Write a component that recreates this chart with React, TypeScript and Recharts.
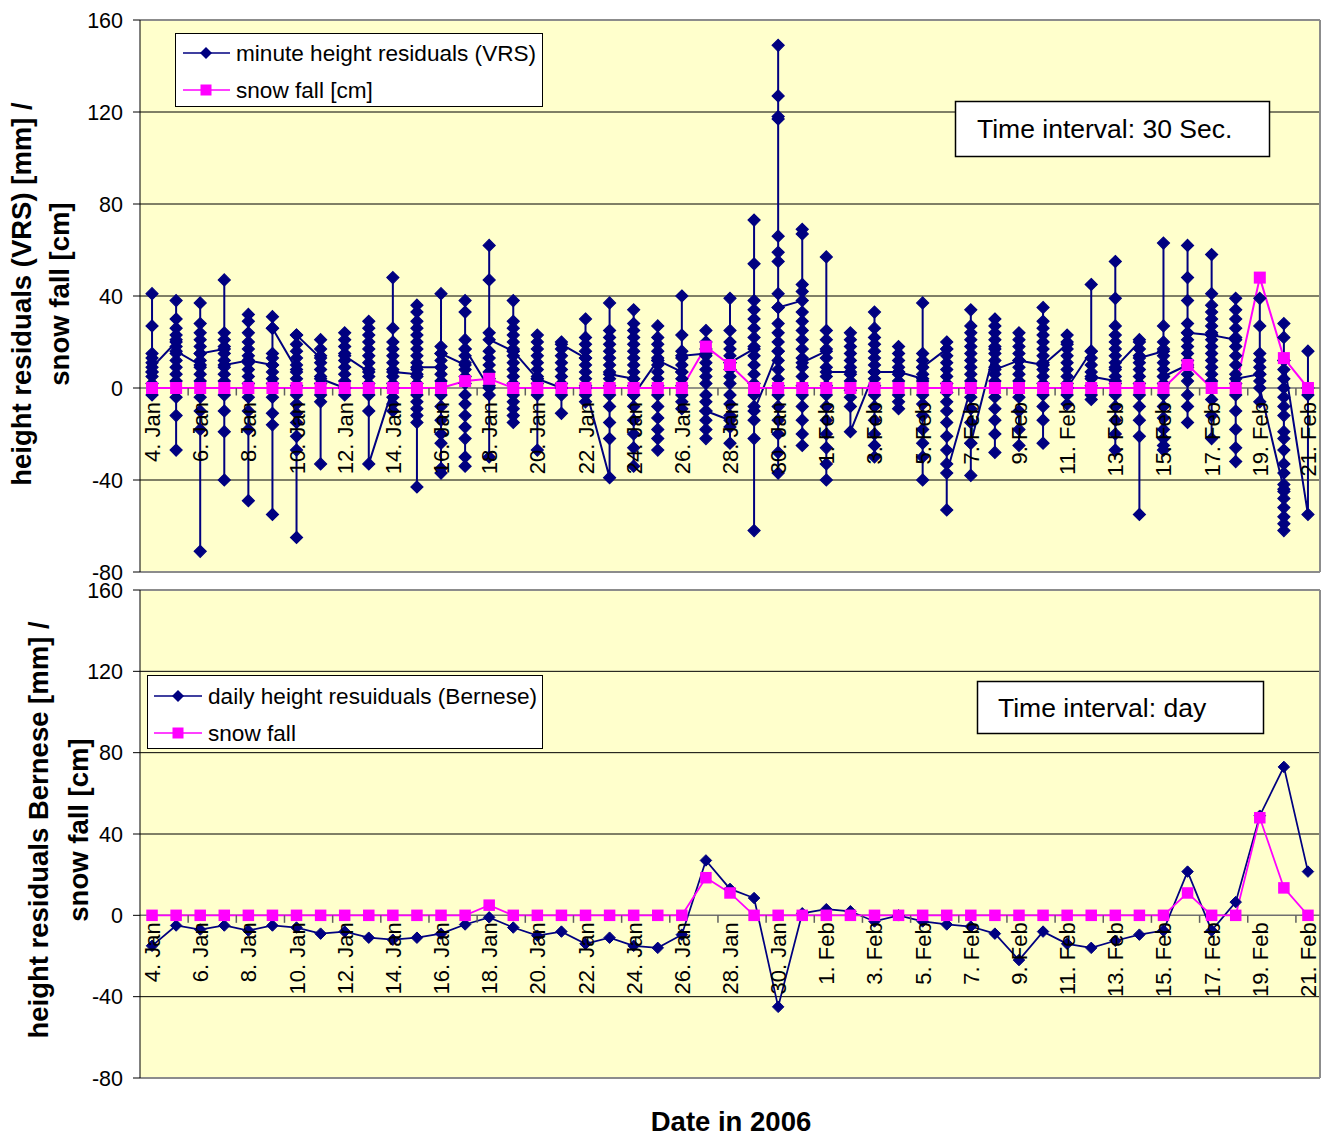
import React from 'react';
import { ComposedChart, Line, XAxis, YAxis, CartesianGrid, ReferenceLine } from 'recharts';

const FONT = '"Liberation Sans", Arial, Helvetica, sans-serif';
const NAVY = '#000080';
const MAGENTA = '#FF00FF';
const PLOT_BG = '#FFFFCC';

// 49 days: 4. Jan .. 21. Feb 2006
const dayLabels = [
  '4. Jan', '5. Jan', '6. Jan', '7. Jan', '8. Jan', '9. Jan', '10. Jan',
  '11. Jan', '12. Jan', '13. Jan', '14. Jan', '15. Jan', '16. Jan', '17. Jan',
  '18. Jan', '19. Jan', '20. Jan', '21. Jan', '22. Jan', '23. Jan', '24. Jan',
  '25. Jan', '26. Jan', '27. Jan', '28. Jan', '29. Jan', '30. Jan', '31. Jan',
  '1. Feb', '2. Feb', '3. Feb', '4. Feb', '5. Feb', '6. Feb', '7. Feb',
  '8. Feb', '9. Feb', '10. Feb', '11. Feb', '12. Feb', '13. Feb', '14. Feb',
  '15. Feb', '16. Feb', '17. Feb', '18. Feb', '19. Feb', '20. Feb', '21. Feb',
];

// days whose label is printed (every second day)
const labelledDays = [0, 2, 4, 6, 8, 10, 12, 14, 16, 18, 20, 22, 24, 26, 28, 30, 32, 34, 36, 38, 40, 42, 44, 46, 48];
// category-axis tick marks (between categories)
const axisTickMarks = [1.5, 3.5, 5.5, 7.5, 9.5, 11.5, 13.5, 15.5, 17.5, 19.5, 21.5, 23.5, 25.5, 27.5, 29.5, 31.5, 33.5, 35.5, 37.5, 39.5, 41.5, 43.5, 45.5, 47.5];

const yTicks = [-80, -40, 0, 40, 80, 120, 160];

// minute height residuals (VRS) [mm], values read per day (first..last in drawing order)
const vrsMinuteResiduals: number[][] = [
  [7, 41, 27, 15, 13, 11, 7, 5, 2, -3, 9],
  [20, 38, 30, 26, 23, 21, 18, 15, 12, 9, 6, 3, -4, -12, -27, 16],
  [10, 37, 28, 24, 21, 18, 15, 12, 9, 6, 3, -4, -10, -18, -71, 15],
  [17, 47, 24, 21, 18, 15, 12, 9, 6, 3, -3, -10, -19, -40, 10],
  [12, 32, 29, 24, 20, 17, 14, 11, 8, 5, 2, -4, -10, -18, -49, 12],
  [10, 31, 26, 15, 13, 10, 7, 4, 2, -4, -11, -16, -55, 26],
  [8, 23, 19, 16, 13, 10, 7, 4, 1, -3, -7, -11, -15, -21, -27, -65, 23],
  [13, 21, 17, 14, 11, 8, 5, 2, -3, -6, -33, 4],
  [0, 24, 21, 18, 15, 12, 9, 6, 3, -3, 14],
  [7, 29, 26, 23, 20, 17, 14, 11, 8, 5, 2, -3, -10, -33],
  [0, 48, 26, 20, 17, 14, 11, 8, 5, 2, -4, -7, -10, 7],
  [6, 36, 33, 29, 26, 23, 20, 17, 14, 11, 8, 5, 2, -3, -6, -9, -12, -15, -43, 9],
  [9, 41, 18, 15, 12, 9, 6, 3, -3, -8, -14, -20, -24, -35, -37, 15],
  [10, 38, 33, 21, 17, 14, 11, 8, 5, 2, -3, -7, -12, -17, -22, -30, -34, 17],
  [0, 62, 47, 24, 16, 13, 10, 7, 4, 1, -3, -30, 21],
  [16, 38, 29, 26, 23, 20, 17, 14, 11, 8, 5, 2, -3, -6, -9, -12, -15, 16],
  [4, 23, 20, 17, 14, 11, 8, 5, 2, -3, -27, 4],
  [0, 20, 17, 14, 11, 8, 5, 2, -3, -11, 19],
  [13, 30, 22, 19, 16, 13, 10, 7, 4, 1, -3, -6, 0],
  [-39, 37, 25, 22, 19, 16, 13, 10, 7, 4, 1, -3, -8, -15, -22, 6],
  [4, 34, 28, 25, 22, 19, 16, 13, 10, 7, 4, 1, -3, -8, -14, -20, -26, -34, -3],
  [12, 27, 22, 19, 16, 13, 10, 7, 4, 1, -3, -8, -13, -18, -22, -27, 12],
  [7, 40, 23, 16, 13, 10, 7, 4, 1, -3, -6, -9, 14],
  [15, 25, 20, 17, 14, 11, 8, 5, 2, -3, -6, -10, -14, -18, -22, -10],
  [-14, 39, 25, 20, 17, 14, 11, 8, 5, 2, -3, -7, -12, -17, -24, 11],
  [17, 73, 54, 38, 34, 30, 26, 22, 18, 14, 10, 6, 2, -3, -8, -14, -22, -62, -10],
  [16, 149, 127, 118, 117, 66, 59, 55, 41, 35, 28, 24, 20, 16, 12, 8, 4, 1, -3, -8, -14, -20, -28, -37, 35],
  [38, 69, 67, 45, 42, 33, 29, 25, 21, 17, 13, 9, 5, 1, -3, -8, -14, -20, -25, 11],
  [16, 57, 25, 21, 17, 13, 9, 5, 1, -3, -8, -14, -20, -26, -33, -40, 7],
  [7, 24, 21, 18, 15, 12, 9, 6, 3, -1, -4, -8, -19],
  [7, 33, 26, 22, 19, 16, 13, 10, 7, 4, 1, -3, -8, -14, -20, -25, -30, 7],
  [7, 18, 15, 12, 9, 6, 3, -3, -6, -9, 7],
  [4, 37, 15, 12, 9, 6, 3, -3, -7, -12, -18, -24, -30, -40, 9],
  [17, 20, 17, 14, 11, 8, 5, 2, -2, -6, -10, -15, -21, -27, -33, -53, -37],
  [0, 34, 27, 24, 21, 18, 15, 12, 9, 6, 3, -4, -9, -15, -24, -38, -24],
  [17, 30, 27, 24, 21, 18, 15, 12, 9, 6, 3, -4, -9, -14, -20, -28, 8],
  [12, 24, 21, 18, 15, 12, 9, 6, 3, -4, -10, -18, -25, 12],
  [10, 35, 29, 26, 23, 20, 17, 14, 11, 8, 5, 2, -3, -8, -14, -24, 10],
  [19, 23, 20, 17, 14, 11, 8, 5, 2, -3, -7, 0],
  [16, 45, 16, 13, 10, 7, 4, 1, -3, -5, 5],
  [3, 55, 39, 27, 23, 20, 17, 14, 11, 8, 5, 2, -3, -8, -14, -20, -27, 9],
  [20, 21, 17, 14, 11, 8, 5, 2, -3, -8, -14, -21, -55, 13],
  [16, 63, 27, 20, 17, 14, 11, 8, 5, 2, -3, -8, -13, -18, -22, -25, -27, 5],
  [10, 62, 48, 38, 28, 24, 21, 18, 15, 12, 9, 6, 3, -3, -8, -15, 24],
  [23, 58, 41, 36, 33, 30, 27, 24, 21, 18, 15, 12, 9, 6, 3, -5, -12, -22, 23],
  [21, 39, 34, 30, 26, 22, 18, 14, 10, 6, 2, -3, -10, -18, -26, -32, 4],
  [6, 39, 27, 15, 12, 9, 6, 3, -6, 0],
  [-44, 28, 22, 12, 8, 4, 0, -4, -8, -12, -19, -22, -27, -33, -37, -42, -45, -48, -52, -56, -59, -62, 12],
  [-55, 16, 0, -3],
];

// snow fall [cm], top panel
const snowTop = [
  0, 0, 0, 0, 0, 0, 0,
  0, 0, 0, 0, 0, 0, 3,
  4, 0, 0, 0, 0, 0, 0,
  0, 0, 18, 10, 0, 0, 0,
  0, 0, 0, 0, 0, 0, 0,
  0, 0, 0, 0, 0, 0, 0,
  0, 10, 0, 0, 48, 13, 0,
];

// daily height residuals (Bernese) [mm]
const berneseDaily = [
  -15, -5, -7, -5, -7.5, -5, -6,
  -9, -8, -11, -12, -11, -9, -4.5,
  -1, -6, -10, -8, -14, -11, -15,
  -16, -9.5, 27, 13, 8.5, -45, 1,
  3, 2, -3, 0, -3, -4.5, -5.5,
  -9, -22, -8, -14, -16, -12.5, -9.5,
  -7.5, 21.5, -7.5, 6.5, 49, 73, 21.5,
];

// snow fall [cm], bottom panel
const snowBottom = [
  0, 0, 0, 0, 0, 0, 0,
  0, 0, 0, 0, 0, 0, 0,
  5, 0, 0, 0, 0, 0, 0,
  0, 0, 18.5, 11, 0, 0, 0,
  0, 0, 0, 0, 0, 0, 0,
  0, 0, 0, 0, 0, 0, 0,
  0, 11, 0, 0, 48, 13.5, 0,
];

// ---- tables built from the arrays ----
const vrsPoints = vrsMinuteResiduals.flatMap((vals, day) => vals.map((v) => ({ x: day, v })));
const snowTopPoints = snowTop.map((s, day) => ({ x: day, s }));
const bernesePoints = berneseDaily.map((b, day) => ({ x: day, b }));
const snowBottomPoints = snowBottom.map((s, day) => ({ x: day, s }));
const labelPoints = labelledDays.map((d) => ({ x: d, y: 0, label: dayLabels[d] }));
const tickPoints = axisTickMarks.map((x) => ({ x, y: 0 }));

// ---- marker renderers ----
const makeDiamond = (r: number, sw: number) => (p: any) => {
  const { cx, cy, index } = p;
  if (cx == null || cy == null || isNaN(cx) || isNaN(cy)) return <g key={`d-${index}`} />;
  return (
    <path
      key={`d-${index}`}
      d={`M${cx},${cy - r}L${cx + r},${cy}L${cx},${cy + r}L${cx - r},${cy}Z`}
      fill={NAVY}
      stroke={NAVY}
      strokeWidth={sw}
      strokeLinejoin="miter"
    />
  );
};

const makeSquare = (h: number) => (p: any) => {
  const { cx, cy, index } = p;
  if (cx == null || cy == null || isNaN(cx) || isNaN(cy)) return <g key={`s-${index}`} />;
  return <rect key={`s-${index}`} x={cx - h} y={cy - h} width={2 * h} height={2 * h} fill={MAGENTA} />;
};

const renderTickMark = (p: any) => {
  const { cx, cy, index } = p;
  if (cx == null || cy == null) return <g key={`t-${index}`} />;
  return <line key={`t-${index}`} x1={cx} x2={cx} y1={cy} y2={cy + 7.5} stroke="#606060" strokeWidth={1.5} />;
};

const makeAxisLabel = (gap: number) => (p: any) => {
  const { cx, cy, index, payload } = p;
  if (cx == null || cy == null) return <g key={`l-${index}`} />;
  return (
    <text
      key={`l-${index}`}
      transform={`translate(${cx + 8},${cy + gap}) rotate(-90)`}
      textAnchor="end"
      fontSize={22}
      fontFamily={FONT}
      fill="#000"
    >
      {payload && payload.label}
    </text>
  );
};

function renderCommon() {
  return [
    <CartesianGrid
      key="grid"
      vertical={false}
      horizontalValues={[-40, 40, 80, 120]}
      stroke="#000"
      strokeWidth={1}
      fill={PLOT_BG}
      fillOpacity={1}
    />,
    <XAxis key="x" type="number" dataKey="x" domain={[-0.5, 48.5]} hide allowDataOverflow />,
    <YAxis
      key="y"
      type="number"
      domain={[-80, 160]}
      ticks={yTicks}
      interval={0}
      width={140}
      allowDataOverflow
      tickSize={7}
      tickMargin={10}
      axisLine={{ stroke: '#000', strokeWidth: 1 }}
      tickLine={{ stroke: '#000', strokeWidth: 1 }}
      tick={{ fontSize: 21.5, fill: '#000', fontFamily: FONT }}
    />,
    <ReferenceLine key="rtop" y={160} stroke="#8c8c8c" strokeWidth={2} ifOverflow="visible" />,
    <ReferenceLine key="rbot" y={-80} stroke="#8c8c8c" strokeWidth={2} ifOverflow="visible" />,
    <ReferenceLine key="rright" x={48.5} stroke="#8c8c8c" strokeWidth={2} ifOverflow="visible" />,
    <ReferenceLine key="rzero" y={0} stroke="#707070" strokeWidth={1.5} ifOverflow="visible" />,
  ];
}

export default function App() {
  const titleStyle = { fontFamily: FONT, fontWeight: 700, fontSize: 27.5, fill: '#000' } as const;
  const legendText = { fontFamily: FONT, fontSize: 22.6, fill: '#000' } as const;
  const boxText = { fontFamily: FONT, fontSize: 26.5, fill: '#000' } as const;
  return (
    <div style={{ position: 'absolute', left: 0, top: 0, width: 1330, height: 1136, background: '#fff', fontFamily: FONT, overflow: 'hidden' }}>
      <div style={{ position: 'absolute', left: 0, top: 0 }}>
        <ComposedChart width={1330} height={600} margin={{ top: 20, right: 10, bottom: 28, left: 0 }} style={{ overflow: 'visible' }}>
          {renderCommon()}
          <Line
            data={vrsPoints}
            dataKey="v"
            type="linear"
            stroke={NAVY}
            strokeWidth={2}
            dot={makeDiamond(6, 1.2)}
            activeDot={false}
            isAnimationActive={false}
            legendType="none"
          />
          <Line
            data={snowTopPoints}
            dataKey="s"
            type="linear"
            stroke={MAGENTA}
            strokeWidth={2}
            dot={makeSquare(6)}
            activeDot={false}
            isAnimationActive={false}
            legendType="none"
          />
          <Line data={tickPoints} dataKey="y" stroke="none" dot={renderTickMark} activeDot={false} isAnimationActive={false} legendType="none" />
          <Line data={labelPoints} dataKey="y" stroke="none" dot={makeAxisLabel(14)} activeDot={false} isAnimationActive={false} legendType="none" />
        </ComposedChart>
      </div>
      <div style={{ position: 'absolute', left: 0, top: 580 }}>
        <ComposedChart width={1330} height={556} margin={{ top: 10, right: 10, bottom: 58, left: 0 }} style={{ overflow: 'visible' }}>
          {renderCommon()}
          <Line
            data={bernesePoints}
            dataKey="b"
            type="linear"
            stroke={NAVY}
            strokeWidth={1.75}
            dot={makeDiamond(5.75, 1)}
            activeDot={false}
            isAnimationActive={false}
            legendType="none"
          />
          <Line
            data={snowBottomPoints}
            dataKey="s"
            type="linear"
            stroke={MAGENTA}
            strokeWidth={1.75}
            dot={makeSquare(5.75)}
            activeDot={false}
            isAnimationActive={false}
            legendType="none"
          />
          <Line data={tickPoints} dataKey="y" stroke="none" dot={renderTickMark} activeDot={false} isAnimationActive={false} legendType="none" />
          <Line data={labelPoints} dataKey="y" stroke="none" dot={makeAxisLabel(7)} activeDot={false} isAnimationActive={false} legendType="none" />
        </ComposedChart>
      </div>

      <svg width={1330} height={1136} style={{ position: 'absolute', left: 0, top: 0, pointerEvents: 'none' }}>
        {/* axis titles */}
        <text transform="translate(31,294) rotate(-90)" textAnchor="middle" style={titleStyle}>height residuals (VRS) [mm] /</text>
        <text transform="translate(69,294) rotate(-90)" textAnchor="middle" style={titleStyle}>snow fall [cm]</text>
        <text transform="translate(48,830) rotate(-90)" textAnchor="middle" style={titleStyle}>height residuals Bernese [mm] /</text>
        <text transform="translate(88,830) rotate(-90)" textAnchor="middle" style={titleStyle}>snow fall [cm]</text>
        <text x={731} y={1131} textAnchor="middle" style={titleStyle}>Date in 2006</text>

        {/* top legend */}
        <rect x={175.5} y={33.5} width={367} height={73} fill="#fff" stroke="#000" strokeWidth={1} />
        <line x1={183} x2={230} y1={53} y2={53} stroke={NAVY} strokeWidth={1.5} />
        <path d="M206,47L212,53L206,59L200,53Z" fill={NAVY} />
        <text x={236} y={61} style={legendText}>minute height residuals (VRS)</text>
        <line x1={183} x2={230} y1={90} y2={90} stroke={MAGENTA} strokeWidth={1.5} />
        <rect x={200.5} y={84.5} width={11} height={11} fill={MAGENTA} />
        <text x={236} y={98} style={legendText}>snow fall [cm]</text>

        {/* top annotation */}
        <rect x={955.5} y={101.5} width={314} height={55} fill="#fff" stroke="#000" strokeWidth={1.5} />
        <text x={977} y={138} style={boxText}>Time interval: 30 Sec.</text>

        {/* bottom legend */}
        <rect x={147.5} y={675.5} width={395} height={73} fill="#fff" stroke="#000" strokeWidth={1} />
        <line x1={154} x2={202} y1={696} y2={696} stroke={NAVY} strokeWidth={1.5} />
        <path d="M178,690L184,696L178,702L172,696Z" fill={NAVY} />
        <text x={208} y={704} style={legendText}>daily height resuiduals (Bernese)</text>
        <line x1={154} x2={202} y1={733} y2={733} stroke={MAGENTA} strokeWidth={1.5} />
        <rect x={172.5} y={727.5} width={11} height={11} fill={MAGENTA} />
        <text x={208} y={741} style={legendText}>snow fall</text>

        {/* bottom annotation */}
        <rect x={977.5} y={681.5} width={286} height={52} fill="#fff" stroke="#000" strokeWidth={1.5} />
        <text x={998} y={717} style={boxText}>Time interval: day</text>
      </svg>
    </div>
  );
}
